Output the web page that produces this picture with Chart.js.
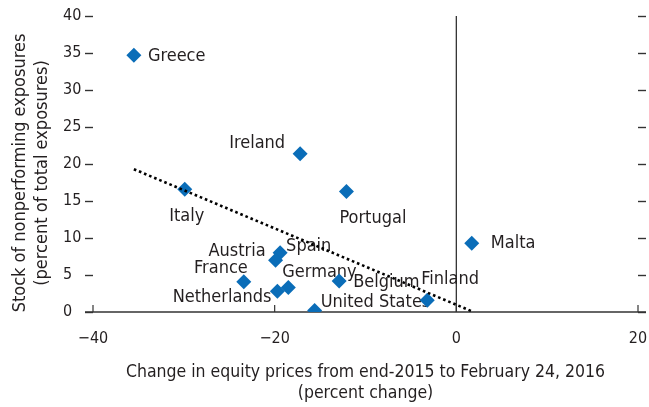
<!DOCTYPE html>
<html>
<head>
<meta charset="utf-8">
<script src="https://cdn.jsdelivr.net/npm/chart.js@4/dist/chart.umd.min.js"></script>
<style>
  html, body { margin: 0; padding: 0; background: #fff; }
  #wrap { width: 649px; height: 407px; }
</style>
</head>
<body>
<div id="wrap"><canvas id="chart" width="649" height="407"></canvas></div>
<script>
// Bank nonperforming exposures vs. equity price change, by country
const countries = ['Greece', 'Ireland', 'Italy', 'Portugal', 'Spain', 'Austria', 'France',
  'Germany', 'Netherlands', 'Belgium', 'United States', 'Finland', 'Malta'];
const equityChange = [-35.5, -17.2, -29.9, -12.1, -19.4, -19.9, -23.4, -18.5, -19.7, -12.9, -15.6, -3.2, 1.7];
const nplStock = [34.7, 21.4, 16.6, 16.3, 8.0, 7.0, 4.1, 3.3, 2.8, 4.2, 0.2, 1.6, 9.3];

// Fitted line, drawn between its two end points
const trendX = [-35.5, 1.7];
const trendY = [19.3, 0.1];

const xTickValues = [-40, -20, 0, 20];
const yTickValues = [0, 5, 10, 15, 20, 25, 30, 35, 40];

const xTitle = ['Change in equity prices from end-2015 to February 24, 2016', '(percent change)'];
const yTitle = ['Stock of nonperforming exposures', '(percent of total exposures)'];

// Where each country name sits relative to its marker
const labelPlacement = {
  'Greece':        { dx: 14,  dy: 1,   align: 'left' },
  'Ireland':       { dx: -15, dy: -10, align: 'right' },
  'Italy':         { dx: 2,   dy: 27,  align: 'center' },
  'Portugal':      { dx: -7,  dy: 27,  align: 'left' },
  'Spain':         { dx: 6,   dy: -6,  align: 'left' },
  'Austria':       { dx: -10, dy: -9,  align: 'right' },
  'France':        { dx: 4,   dy: -13, align: 'right' },
  'Germany':       { dx: -6,  dy: -15, align: 'left' },
  'Netherlands':   { dx: -6,  dy: 6,   align: 'right' },
  'Belgium':       { dx: 14,  dy: 1,   align: 'left' },
  'United States': { dx: 6,   dy: -8,  align: 'left' },
  'Finland':       { dx: -6,  dy: -21, align: 'left' },
  'Malta':         { dx: 19,  dy: 0,   align: 'left' }
};

const FAMILY = "'DejaVu Sans Condensed', 'DejaVu Sans', sans-serif";
const INK = '#231f20';
const AXIS = '#333333';
const BLUE = '#0a6db8';

const minus = v => (v < 0 ? '\u2212' + Math.abs(v) : String(v));

const decorations = {
  id: 'decorations',
  beforeDatasetsDraw(chart) {
    const { ctx, chartArea, scales } = chart;
    const x = scales.x;
    ctx.save();
    // vertical line at zero change
    const x0 = x.getPixelForValue(0);
    ctx.strokeStyle = AXIS;
    ctx.lineWidth = 1.3;
    ctx.beginPath();
    ctx.moveTo(x0, chartArea.top);
    ctx.lineTo(x0, chartArea.bottom);
    ctx.stroke();

    // horizontal axis line, running out to the tick ends on both sides
    ctx.lineWidth = 1.5;
    ctx.beginPath();
    ctx.moveTo(chartArea.left - 8, chartArea.bottom);
    ctx.lineTo(chartArea.right + 8, chartArea.bottom);
    ctx.stroke();

    // inward tick marks on the horizontal axis
    ctx.lineWidth = 1.2;
    xTickValues.forEach(v => {
      const px = x.getPixelForValue(v);
      ctx.beginPath();
      ctx.moveTo(px, chartArea.bottom);
      ctx.lineTo(px, chartArea.bottom - 7);
      ctx.stroke();
    });

    // country names
    const meta = chart.getDatasetMeta(1);
    ctx.fillStyle = INK;
    ctx.font = '18px ' + FAMILY;
    ctx.textBaseline = 'middle';
    meta.data.forEach((pt, i) => {
      const name = countries[i];
      const p = labelPlacement[name];
      ctx.textAlign = p.align;
      ctx.fillText(name, pt.x + p.dx, pt.y + p.dy);
    });

    // vertical axis title, two rotated lines
    const cy = (chartArea.top + chartArea.bottom) / 2 + 9;
    ctx.textAlign = 'center';
    ctx.translate(20, cy);
    ctx.rotate(-Math.PI / 2);
    ctx.fillText(yTitle[0], 0, 0);
    ctx.fillText(yTitle[1], 0, 22);
    ctx.restore();
  }
};

new Chart(document.getElementById('chart'), {
  type: 'scatter',
  data: {
    datasets: [
      {
        type: 'line',
        data: trendX.map((v, i) => ({ x: v, y: trendY[i] })),
        borderColor: '#000',
        borderWidth: 2.6,
        borderDash: [2.6, 2.9],
        pointRadius: 0,
        fill: false,
        order: 0
      },
      {
        data: equityChange.map((v, i) => ({ x: v, y: nplStock[i] })),
        backgroundColor: BLUE,
        borderColor: BLUE,
        borderWidth: 0,
        pointStyle: 'rectRot',
        pointRadius: 7.5,
        order: 1
      }
    ]
  },
  options: {
    responsive: false,
    animation: false,
    devicePixelRatio: 1,
    layout: { padding: { left: 63, top: 16, right: 0, bottom: 0 } },
    plugins: { legend: { display: false }, tooltip: { enabled: false } },
    scales: {
      x: {
        type: 'linear',
        position: 'bottom',
        min: -40,
        max: 20,
        afterBuildTicks: s => { s.ticks = xTickValues.map(v => ({ value: v })); },
        afterFit: s => { s.height = 95; s.paddingLeft = 0; s.paddingRight = 0; },
        grid: { display: false },
        border: { display: false },
        ticks: {
          padding: 9,
          color: INK,
          font: { family: FAMILY, size: 16 },
          maxRotation: 0,
          callback: v => minus(v)
        },
        title: {
          display: true,
          text: xTitle,
          color: INK,
          font: { family: FAMILY, size: 17.5, lineHeight: 1.22 },
          padding: { top: 0, bottom: 3 }
        }
      },
      y: {
        type: 'linear',
        position: 'left',
        min: 0,
        max: 40,
        afterBuildTicks: s => { s.ticks = yTickValues.map(v => ({ value: v })); },
        afterFit: s => { s.width = 30; },
        grid: { drawOnChartArea: false, drawTicks: true, tickLength: 8, tickColor: AXIS, tickWidth: 1.4 },
        border: { display: false },
        ticks: {
          padding: 3,
          crossAlign: 'far',
          color: INK,
          font: { family: FAMILY, size: 16 },
          callback: v => minus(v)
        }
      },
      y2: {
        type: 'linear',
        position: 'right',
        min: 0,
        max: 40,
        afterBuildTicks: s => { s.ticks = yTickValues.map(v => ({ value: v })); },
        afterFit: s => { s.width = 11; },
        grid: { drawOnChartArea: false, drawTicks: true, tickLength: 8, tickColor: AXIS, tickWidth: 1.4 },
        border: { display: false },
        ticks: { display: false }
      }
    }
  },
  plugins: [decorations]
});
</script>
</body>
</html>
